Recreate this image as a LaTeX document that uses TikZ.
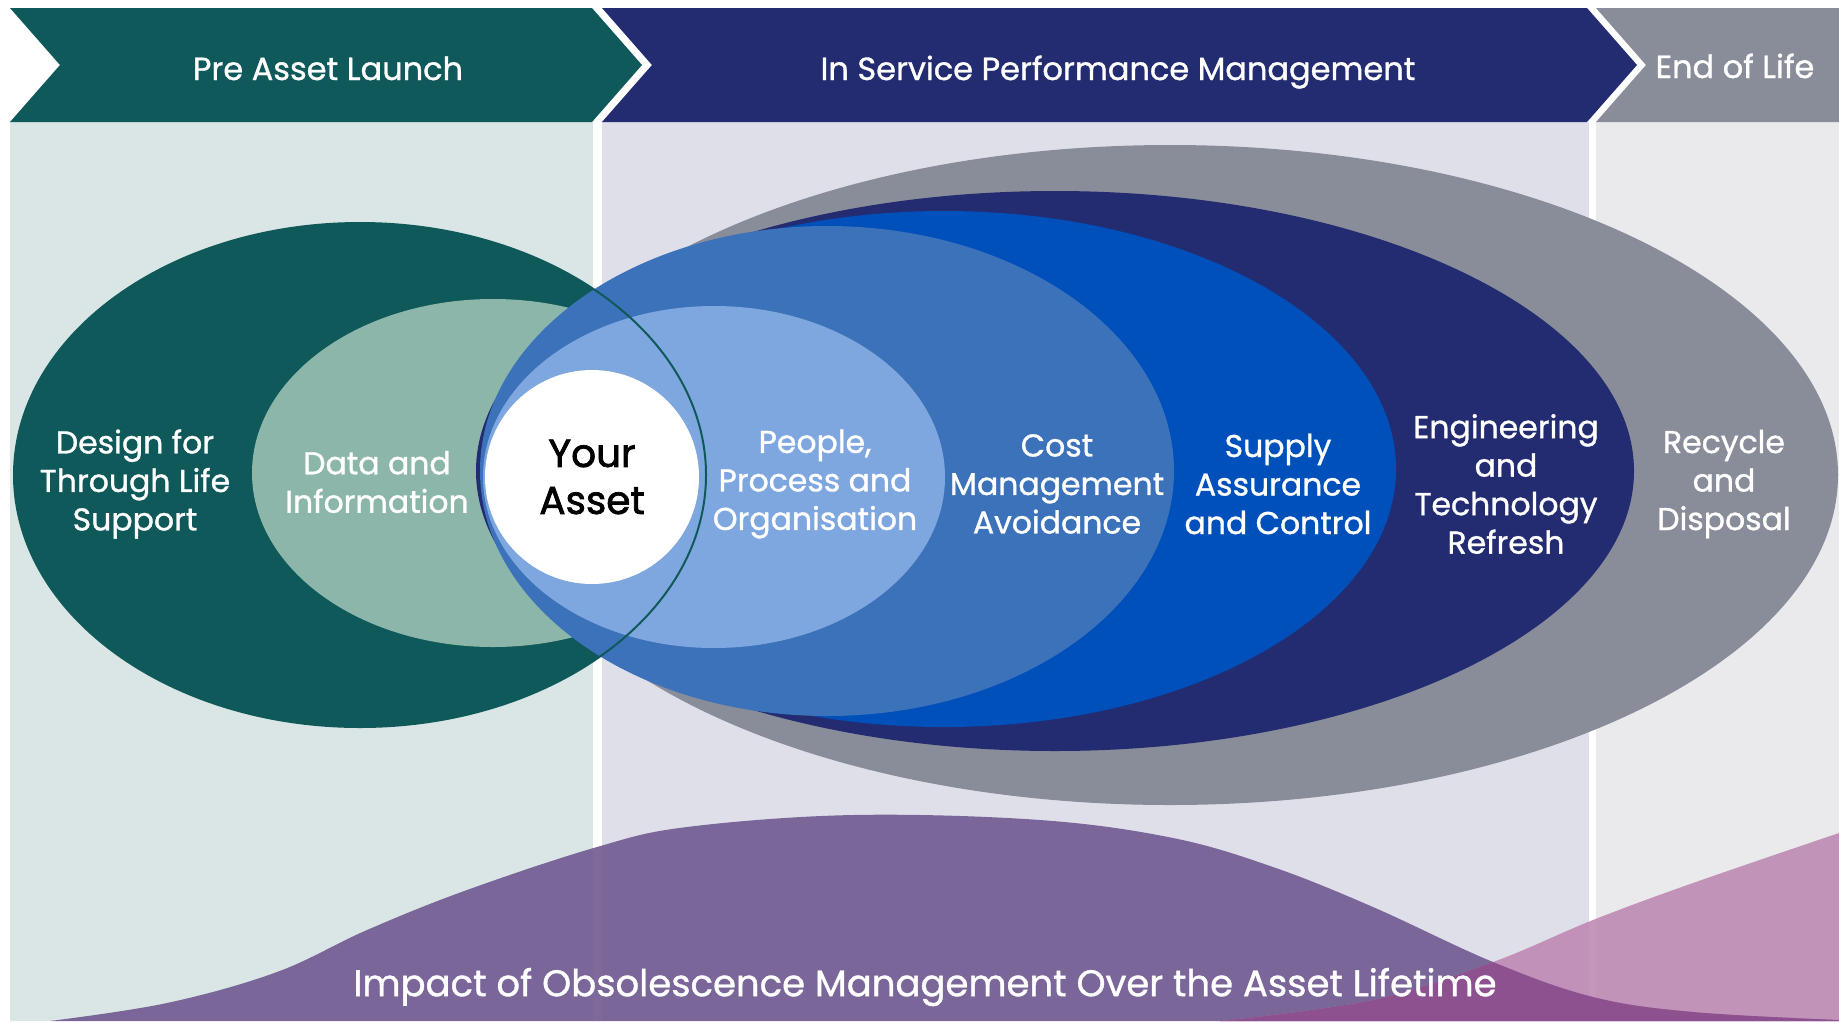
\documentclass[tikz,border=0pt]{standalone}
\usepackage{fontspec}
\setmainfont{Poppins}
\newfontfamily\medfont{Poppins}[FakeBold=1]
\newfontfamily\boldfont{Poppins}[FakeBold=1.8]
\usepackage{tikz}
\usetikzlibrary{shapes,positioning}

\definecolor{dgreen}{HTML}{10595A}
\definecolor{lgreen}{HTML}{8CB6A9}
\definecolor{pgreen}{HTML}{DAE6E6}
\definecolor{plav}{HTML}{DFDFEA}
\definecolor{pgray}{HTML}{EAEAEC}
\definecolor{navy}{HTML}{232C70}
\definecolor{egray}{HTML}{898C99}
\definecolor{royal}{HTML}{0050BB}
\definecolor{mblue}{HTML}{3C72B9}
\definecolor{lblue}{HTML}{7FA7DF}
\definecolor{wpurple}{HTML}{705990}
\definecolor{wpink}{HTML}{BC84B1}
\definecolor{wmix}{HTML}{8C4F8F}

\tikzstyle{lbl} = [align=center, text=white, inner sep=0pt, font=\medfont\fontsize{31.5}{38.5}\selectfont]
\tikzstyle{head} = [text=white, inner sep=0pt, anchor=base, font=\medfont\fontsize{32}{36}\selectfont]
\tikzstyle{core} = [circle, fill=white, minimum size=214pt, inner sep=0pt, align=center, font=\boldfont\fontsize{39}{47}\selectfont]
\tikzstyle{line} = [draw, dgreen, line width=2pt]

\newcommand{\purplewave}{plot [smooth, tension=0.6] coordinates {(50,1021) (167,1003) (277,972) (367,930) (467,890) (597,847) (687,827) (853,815) (1040,820) (1173,838) (1273,867) (1373,907) (1493,962) (1593,997) (1693,1012) (1839,1020)} -- (1839,1021) -- cycle}
\newcommand{\pinkwave}{plot [smooth, tension=0.6] coordinates {(1220,1021) (1373,1000) (1493,962) (1593,920) (1693,883) (1839,833)} -- (1839,1021) -- cycle}

\begin{document}
\begin{tikzpicture}[x=1pt, y=-1pt]
\useasboundingbox (0,0) rectangle (1839,1021);
\fill [white] (0,0) rectangle (1839,1021);

% phase panels
\fill [pgreen] (10,122) rectangle (593,1021);
\fill [plav] (602,122) rectangle (1589,1021);
\fill [pgray] (1596,122) rectangle (1839,1021);

% header arrows
\fill [dgreen] (10,8) -- (592,8) -- (642,65) -- (592,122) -- (10,122) -- (60,65) -- cycle;
\fill [navy] (602,8) -- (1587,8) -- (1637,65) -- (1587,122) -- (602,122) -- (652,65) -- cycle;
\fill [egray] (1596,8) -- (1839,8) -- (1839,122) -- (1596,122) -- (1646,65) -- cycle;

\node [head] (pre) at (328,80) {Pre Asset Launch};
\node [head] (inservice) at (1118,80) {In Service Performance Management};
\node [head] (eol) at (1735,78) {End of Life};

% pre launch ellipses
\fill [dgreen] (360,475) ellipse [x radius=346pt, y radius=252pt];
\fill [lgreen] (493,473) ellipse [x radius=241pt, y radius=174pt];

% in service ellipses
\fill [egray] (1170,475) ellipse [x radius=668pt, y radius=330pt];
\fill [navy] (1055,471) ellipse [x radius=579pt, y radius=280pt];
\fill [royal] (944,469) ellipse [x radius=452pt, y radius=258pt];
\fill [mblue] (827,471) ellipse [x radius=347pt, y radius=245pt];
\fill [lblue] (714,477) ellipse [x radius=231pt, y radius=171pt];
\path [line] (360,475) ellipse [x radius=346pt, y radius=252pt];

\node [core] (asset) at (592,477) {Your\\Asset};

\node [lbl] (design) at (135,484) {Design for\\Through Life\\Support};
\node [lbl] (data) at (377,482) {Data and\\Information};
\node [lbl] (people) at (815,484) {People,\\Process and\\Organisation};
\node [lbl] (cost) at (1057,484) {Cost\\Management\\Avoidance};
\node [lbl] (supply) at (1278,484) {Supply\\Assurance\\and Control};
\node [lbl] (eng) at (1506,484) {Engineering\\and\\Technology\\Refresh};
\node [lbl] (recycle) at (1724,484) {Recycle\\and\\Disposal};

% impact waves
\fill [wpurple, opacity=0.9] \purplewave;
\fill [wpink, opacity=0.85] \pinkwave;
\begin{scope}
\clip \purplewave;
\fill [wmix, opacity=0.95] \pinkwave;
\end{scope}

\node [lbl, font=\medfont\fontsize{37}{42}\selectfont] (impact) at (925,987) {Impact of Obsolescence Management Over the Asset Lifetime};
\end{tikzpicture}
\end{document}
